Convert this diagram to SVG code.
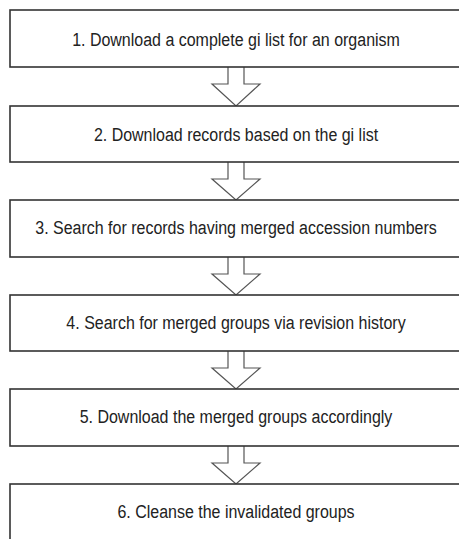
<svg xmlns="http://www.w3.org/2000/svg" width="459" height="539" viewBox="0 0 459 539">
  <style>
    .step rect { fill: #ffffff; stroke: #333333; stroke-width: 1.6; }
    .step text { font-family: "Liberation Sans", Arial, sans-serif; font-size: 16px; fill: #222222; text-anchor: middle; }
    .flow path { fill: #ffffff; stroke: #555555; stroke-width: 1.2; stroke-linejoin: miter; }
  </style>
  <rect width="459" height="539" fill="#ffffff"/>

  <!-- block arrows between consecutive steps -->
  <g id="connectors" class="flow">
    <path d="M228,67 V84 H212 L236,106 L260,84 H244 V67"/>
    <path d="M228,162 V179 H212 L236,200 L260,179 H244 V162"/>
    <path d="M228,257 V274 H212 L236,295 L260,274 H244 V257"/>
    <path d="M228,351 V368 H212 L236,389 L260,368 H244 V351"/>
    <path d="M228,446 V463 H212 L236,484 L260,463 H244 V446"/>
  </g>

  <g id="step1" class="step">
    <rect x="10" y="10" width="470" height="57"/>
    <text transform="translate(236,46) scale(1,1.1)">1. Download a complete gi list for an organism</text>
  </g>
  <g id="step2" class="step">
    <rect x="10" y="106" width="470" height="56"/>
    <text transform="translate(236,141) scale(1,1.1)">2. Download records based on the gi list</text>
  </g>
  <g id="step3" class="step">
    <rect x="10" y="200" width="470" height="57"/>
    <text transform="translate(236,234) scale(1,1.1)">3. Search for records having merged accession numbers</text>
  </g>
  <g id="step4" class="step">
    <rect x="10" y="295" width="470" height="56"/>
    <text transform="translate(236,329) scale(1,1.1)">4. Search for merged groups via revision history</text>
  </g>
  <g id="step5" class="step">
    <rect x="10" y="389" width="470" height="57"/>
    <text transform="translate(236,423) scale(1,1.1)">5. Download the merged groups accordingly</text>
  </g>
  <g id="step6" class="step">
    <rect x="10" y="484" width="470" height="70"/>
    <text transform="translate(236,518) scale(1,1.1)">6. Cleanse the invalidated groups</text>
  </g>
</svg>
